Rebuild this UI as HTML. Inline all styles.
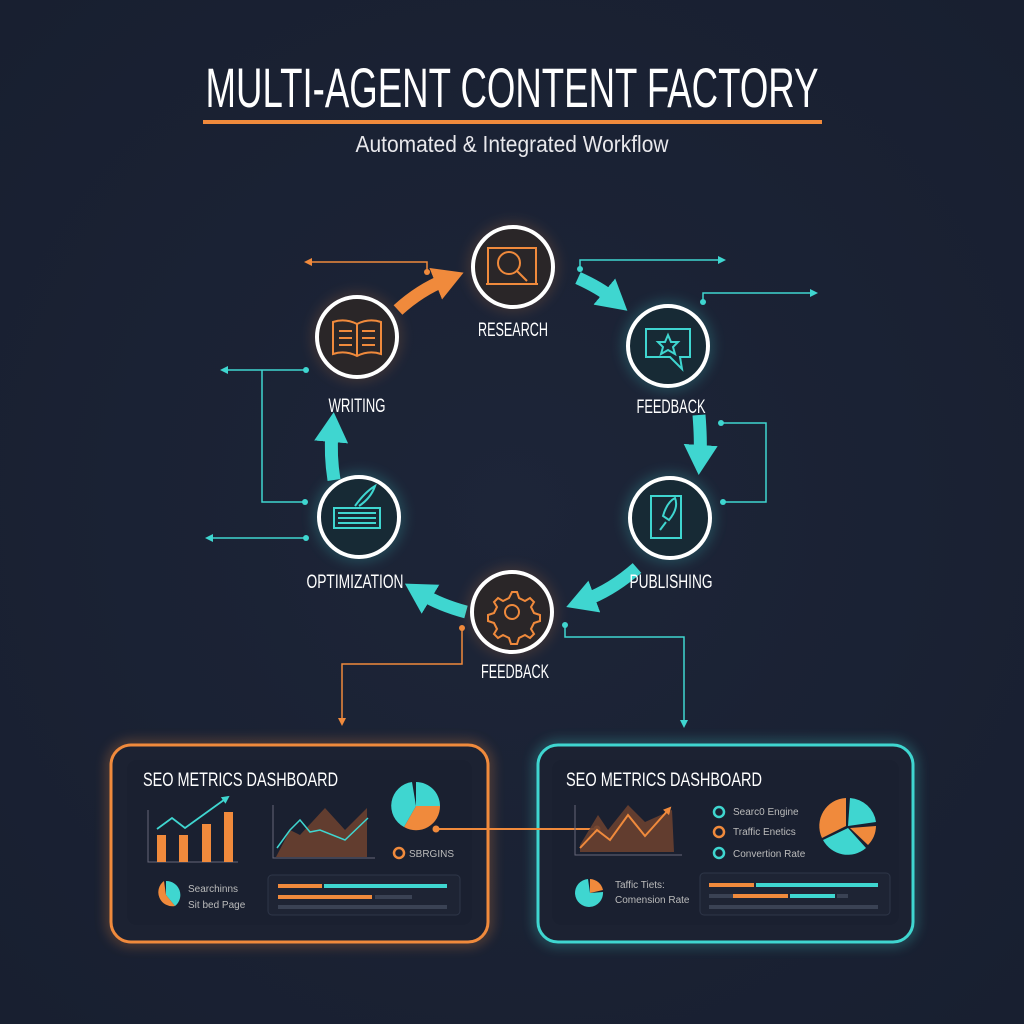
<!DOCTYPE html>
<html><head><meta charset="utf-8"><style>
html,body{margin:0;padding:0;background:#1b2336;}
svg{display:block}
text{font-family:"Liberation Sans",sans-serif;}
</style></head><body>
<svg width="1024" height="1024" viewBox="0 0 1024 1024" xmlns="http://www.w3.org/2000/svg">
<defs>
<radialGradient id="bg" cx="50%" cy="50%" r="70%"><stop offset="0" stop-color="#1d2538"/><stop offset="1" stop-color="#181f30"/></radialGradient>
<filter id="glow" x="-50%" y="-50%" width="200%" height="200%"><feGaussianBlur stdDeviation="6"/></filter>
<marker id="ac" markerWidth="8" markerHeight="8" refX="6" refY="4" orient="auto" markerUnits="userSpaceOnUse"><path d="M0,0 L8,4 L0,8z" fill="#3fd6d0"/></marker>
<marker id="ao" markerWidth="8" markerHeight="8" refX="6" refY="4" orient="auto" markerUnits="userSpaceOnUse"><path d="M0,0 L8,4 L0,8z" fill="#f08a3c"/></marker>
<marker id="bc" markerWidth="34" markerHeight="34" refX="10" refY="17" orient="auto" markerUnits="userSpaceOnUse"><path d="M0,0 L30,17 L0,34z" fill="#3fd6d0"/></marker>
<marker id="bo" markerWidth="34" markerHeight="34" refX="10" refY="17" orient="auto" markerUnits="userSpaceOnUse"><path d="M0,0 L30,17 L0,34z" fill="#f08a3c"/></marker>
</defs>
<rect width="1024" height="1024" fill="url(#bg)"/>

<!-- title -->
<text x="512" y="107" text-anchor="middle" font-size="56" fill="#fff" textLength="613" lengthAdjust="spacingAndGlyphs">MULTI-AGENT CONTENT FACTORY</text>
<rect x="203" y="120" width="619" height="4" fill="#f08a3c"/>
<text x="512" y="152" text-anchor="middle" font-size="23" fill="#e8e8ec" textLength="313" lengthAdjust="spacingAndGlyphs">Automated &amp; Integrated Workflow</text>

<!-- thin connectors -->
<g fill="none" stroke-width="1.5">
<path d="M427,272 V262 H306" stroke="#f08a3c" marker-end="url(#ao)"/>
<path d="M580,269 V260 H724" stroke="#3fd6d0" marker-end="url(#ac)"/>
<path d="M703,302 V293 H816" stroke="#3fd6d0" marker-end="url(#ac)"/>
<path d="M306,370 H222" stroke="#3fd6d0" marker-end="url(#ac)"/>
<path d="M262,370 V502 H305" stroke="#3fd6d0"/>
<path d="M306,538 H207" stroke="#3fd6d0" marker-end="url(#ac)"/>
<path d="M721,423 H766 V502 H723" stroke="#3fd6d0"/>
<path d="M462,628 V664 H342 V724" stroke="#f08a3c" marker-end="url(#ao)"/>
<path d="M565,625 V637 H684 V726" stroke="#3fd6d0" marker-end="url(#ac)"/>
</g>
<g>
<circle cx="427" cy="272" r="3" fill="#f08a3c"/><circle cx="580" cy="269" r="3" fill="#3fd6d0"/>
<circle cx="703" cy="302" r="3" fill="#3fd6d0"/><circle cx="306" cy="370" r="3" fill="#3fd6d0"/>
<circle cx="305" cy="502" r="3" fill="#3fd6d0"/><circle cx="306" cy="538" r="3" fill="#3fd6d0"/>
<circle cx="721" cy="423" r="3" fill="#3fd6d0"/><circle cx="723" cy="502" r="3" fill="#3fd6d0"/>
<circle cx="462" cy="628" r="3" fill="#f08a3c"/><circle cx="565" cy="625" r="3" fill="#3fd6d0"/>
</g>

<!-- big arrows -->
<g fill="none" stroke-width="13">
<path d="M398,310 Q420,290 445,280" stroke="#f08a3c" marker-end="url(#bo)"/>
<path d="M578,278 Q600,288 612,298" stroke="#3fd6d0" marker-end="url(#bc)"/>
<path d="M699,415 Q701,440 700,455" stroke="#3fd6d0" marker-end="url(#bc)"/>
<path d="M637,568 Q612,590 585,600" stroke="#3fd6d0" marker-end="url(#bc)"/>
<path d="M466,612 Q440,605 422,594" stroke="#3fd6d0" marker-end="url(#bc)"/>
<path d="M334,480 Q330,455 332,432" stroke="#3fd6d0" marker-end="url(#bc)"/>
</g>

<!-- nodes -->
<g>
<circle cx="513" cy="267" r="46" fill="#f08a3c" opacity="0.15" filter="url(#glow)"/>
<circle cx="357" cy="337" r="46" fill="#f08a3c" opacity="0.15" filter="url(#glow)"/>
<circle cx="512" cy="612" r="46" fill="#f08a3c" opacity="0.15" filter="url(#glow)"/>
<circle cx="668" cy="346" r="46" fill="#3fd6d0" opacity="0.2" filter="url(#glow)"/>
<circle cx="670" cy="518" r="46" fill="#3fd6d0" opacity="0.2" filter="url(#glow)"/>
<circle cx="359" cy="517" r="46" fill="#3fd6d0" opacity="0.2" filter="url(#glow)"/>
<g stroke="#fff" stroke-width="4">
<circle cx="513" cy="267" r="40" fill="#2a2628"/>
<circle cx="357" cy="337" r="40" fill="#2a2628"/>
<circle cx="512" cy="612" r="40" fill="#2a2628"/>
<circle cx="668" cy="346" r="40" fill="#172a35"/>
<circle cx="670" cy="518" r="40" fill="#172a35"/>
<circle cx="359" cy="517" r="40" fill="#172a35"/>
</g>
<!-- icons -->
<g fill="none" stroke="#f08a3c" stroke-width="2">
<path d="M488,248 h48 v36 h-48z M486,284 h52"/>
<circle cx="509" cy="263" r="11"/><path d="M517,271 l10,10"/>
<path d="M333,322 q12,-4 24,2 q12,-6 24,-2 v32 q-12,-4 -24,2 q-12,-6 -24,-2z M357,324 v32"/>
<path d="M339,331 h13 M339,338 h13 M339,345 h13 M362,331 h13 M362,338 h13 M362,345 h13"/>
<path d="M512,592 l5,0 2,6 6,3 5,-3 4,4 -3,5 3,6 6,2 0,6 -6,2 -3,6 3,5 -4,4 -5,-3 -6,3 -2,6 -6,0 -2,-6 -6,-3 -5,3 -4,-4 3,-5 -3,-6 -6,-2 0,-6 6,-2 3,-6 -3,-5 4,-4 5,3 6,-3z"/>
<circle cx="512" cy="612" r="7"/>
</g>
<g fill="none" stroke="#3fd6d0" stroke-width="2">
<path d="M646,329 h44 v28 h-10 l2,12 -12,-12 h-24z"/>
<path d="M668,335 l3,7 7,0 -5,5 2,7 -7,-4 -7,4 2,-7 -5,-5 7,0z"/>
<path d="M651,496 h30 v42 h-30z"/>
<path d="M675,498 q4,10 -6,22 l-6,-4 q4,-14 12,-18z M660,530 l6,-8"/>
<path d="M334,508 h46 v20 h-46z M338,513 h38 M338,518 h38 M338,523 h38"/>
<path d="M355,506 q10,-14 20,-20 q-4,12 -16,20"/>
</g>
</g>

<!-- labels -->
<g fill="#fff" font-size="19">
<text x="513" y="336" text-anchor="middle" textLength="70" lengthAdjust="spacingAndGlyphs">RESEARCH</text>
<text x="357" y="412" text-anchor="middle" textLength="57" lengthAdjust="spacingAndGlyphs">WRITING</text>
<text x="671" y="413" text-anchor="middle" textLength="69" lengthAdjust="spacingAndGlyphs">FEEDBACK</text>
<text x="355" y="588" text-anchor="middle" textLength="97" lengthAdjust="spacingAndGlyphs">OPTIMIZATION</text>
<text x="671" y="588" text-anchor="middle" textLength="83" lengthAdjust="spacingAndGlyphs">PUBLISHING</text>
<text x="515" y="678" text-anchor="middle" textLength="68" lengthAdjust="spacingAndGlyphs">FEEDBACK</text>
</g>

<!-- orange dashboard -->
<rect x="111" y="745" width="377" height="197" rx="20" fill="none" stroke="#f08a3c" stroke-width="8" opacity="0.35" filter="url(#glow)"/>
<rect x="111" y="745" width="377" height="197" rx="20" fill="#1c2232" stroke="#f08a3c" stroke-width="3"/>
<rect x="127" y="760" width="345" height="165" rx="10" fill="#1a2030"/>
<text x="143" y="786" font-size="19" fill="#fff" textLength="195" lengthAdjust="spacingAndGlyphs">SEO METRICS DASHBOARD</text>
<path d="M148,810 V862 H238" stroke="#667" stroke-width="1" fill="none"/>
<g fill="#f08a3c"><rect x="157" y="835" width="9" height="27"/><rect x="179" y="835" width="9" height="27"/><rect x="202" y="824" width="9" height="38"/><rect x="224" y="812" width="9" height="50"/></g>
<path d="M157,829 L172,818 L185,828 L228,797" stroke="#3fd6d0" stroke-width="1.8" fill="none" marker-end="url(#ac)"/>
<path d="M273,805 V858 H375" stroke="#667" stroke-width="1" fill="none"/>
<path d="M276,857 L290,830 L300,835 L325,808 L345,830 L367,808 L367,857z" fill="#6a4030" opacity="0.9"/>
<path d="M277,848 L290,830 L300,820 L310,832 L320,830 L345,840 L368,818" stroke="#3fd6d0" stroke-width="1.5" fill="none"/>
<path d="M416,806 L416,782 A24,24 0 0,1 440,806z" fill="#3fd6d0"/>
<path d="M416,806 L440,806 A24,24 0 0,1 404,827z" fill="#f08a3c"/>
<path d="M416,806 L404,827 A24,24 0 0,1 412,782z" fill="#3fd6d0"/>
<path d="M436,829 H597" stroke="#f08a3c" stroke-width="2"/><circle cx="436" cy="829" r="3.5" fill="#f08a3c"/><circle cx="597" cy="829" r="3.5" fill="#f08a3c"/>
<circle cx="399" cy="853" r="5" fill="none" stroke="#f08a3c" stroke-width="2.5"/>
<text x="409" y="857" font-size="10" fill="#bbb">SBRGINS</text>
<path d="M166,895 L166,881 A14,14 0 0,1 175,906z" fill="#3fd6d0"/>
<path d="M166,895 L175,906 A14,14 0 0,1 164,881z" fill="#f08a3c"/>
<text x="188" y="892" font-size="10" fill="#bbb">Searchinns</text>
<text x="188" y="908" font-size="10" fill="#bbb">Sit  bed Page</text>
<rect x="268" y="875" width="192" height="40" rx="4" fill="#1e2434" stroke="#2e3648"/>
<rect x="278" y="884" width="44" height="4" fill="#f08a3c"/><rect x="324" y="884" width="123" height="4" fill="#3fd6d0"/>
<rect x="278" y="895" width="94" height="4" fill="#f08a3c"/><rect x="375" y="895" width="37" height="4" fill="#3a4254"/>
<rect x="278" y="905" width="169" height="4" fill="#3a4254"/>

<!-- cyan dashboard -->
<rect x="538" y="745" width="375" height="197" rx="20" fill="none" stroke="#3fd6d0" stroke-width="8" opacity="0.35" filter="url(#glow)"/>
<rect x="538" y="745" width="375" height="197" rx="20" fill="#1c2232" stroke="#3fd6d0" stroke-width="3"/>
<rect x="552" y="760" width="347" height="165" rx="10" fill="#1a2030"/>
<path d="M436,829 H597" stroke="#f08a3c" stroke-width="2"/><circle cx="597" cy="829" r="3.5" fill="#f08a3c"/>
<text x="566" y="786" font-size="19" fill="#fff" textLength="196" lengthAdjust="spacingAndGlyphs">SEO METRICS DASHBOARD</text>
<path d="M575,805 V855 H682" stroke="#667" stroke-width="1" fill="none"/>
<path d="M580,845 L598,815 L608,830 L628,805 L645,822 L672,810 L674,852 L580,852z" fill="#6a4030" opacity="0.9"/>
<path d="M580,848 L597,830 L610,840 L628,815 L645,836 L670,808" stroke="#f08a3c" stroke-width="2" fill="none" marker-end="url(#ao)"/>
<circle cx="719" cy="812" r="5" fill="none" stroke="#3fd6d0" stroke-width="2.5"/>
<circle cx="719" cy="832" r="5" fill="none" stroke="#f08a3c" stroke-width="2.5"/>
<circle cx="719" cy="853" r="5" fill="none" stroke="#3fd6d0" stroke-width="2.5"/>
<text x="733" y="815" font-size="10" fill="#bbb">Searc0 Engine</text>
<text x="733" y="835" font-size="10" fill="#bbb">Traffic Enetics</text>
<text x="733" y="857" font-size="10" fill="#bbb">Convertion Rate</text>
<path d="M848,826 L850,798 A28,28 0 0,1 876,822z" fill="#3fd6d0"/>
<path d="M850,828 L876,826 A28,28 0 0,1 868,845z" fill="#f08a3c"/>
<path d="M848,828 L866,848 A28,28 0 0,1 823,840z" fill="#3fd6d0"/>
<path d="M846,826 L822,838 A28,28 0 0,1 846,798z" fill="#f08a3c"/>
<path d="M590,893 L590,879 A14,14 0 0,1 603,890z" fill="#f08a3c"/>
<path d="M590,893 L603,892 A14,14 0 1,1 588,879z" fill="#3fd6d0"/>
<text x="615" y="888" font-size="10" fill="#bbb">Taffic Tiets:</text>
<text x="615" y="903" font-size="10" fill="#bbb">Comension Rate</text>
<rect x="700" y="873" width="190" height="42" rx="4" fill="#1e2434" stroke="#2e3648"/>
<rect x="709" y="883" width="45" height="4" fill="#f08a3c"/><rect x="756" y="883" width="122" height="4" fill="#3fd6d0"/>
<rect x="709" y="894" width="24" height="4" fill="#3a4254"/><rect x="733" y="894" width="55" height="4" fill="#f08a3c"/><rect x="790" y="894" width="45" height="4" fill="#3fd6d0"/><rect x="837" y="894" width="11" height="4" fill="#3a4254"/>
<rect x="709" y="905" width="169" height="4" fill="#3a4254"/>
</svg>
</body></html>
